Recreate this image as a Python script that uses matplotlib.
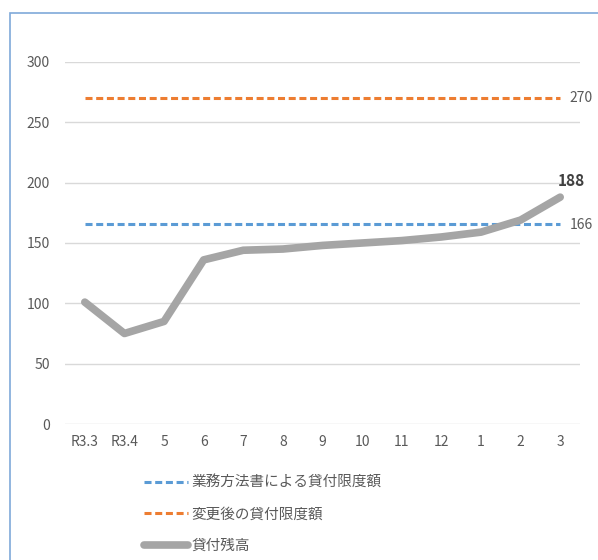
import matplotlib
matplotlib.use('Agg')
import matplotlib.pyplot as plt
from matplotlib.patches import Rectangle

plt.rcParams['font.family'] = ['Noto Sans CJK JP', 'DejaVu Sans']

# monthly loan balance and the two lending limits
months = ['R3.3', 'R3.4', '5', '6', '7', '8', '9', '10', '11', '12', '1', '2', '3']
balance = [101, 75, 85, 136, 144, 145, 148, 150, 152, 155, 159, 169, 188]
limit_rules = 166
limit_new = 270

label_rules = '業務方法書による貸付限度額'
label_new = '変更後の貸付限度額'
label_balance = '貸付残高'

text_gray = '#595959'
grid_gray = '#d9d9d9'

fig = plt.figure(figsize=(5.98, 5.6), dpi=100)
ax = fig.add_axes([65 / 598, 1 - 424 / 560, 515 / 598, 362 / 560])

x = list(range(len(months)))
ax.plot(x, [limit_rules] * len(x), color='#5b9bd5', lw=2.2, dashes=(2.3, 1.2),
        label=label_rules)
ax.plot(x, [limit_new] * len(x), color='#ed7d31', lw=2.2, dashes=(2.3, 1.2),
        label=label_new)
ax.plot(x, balance, color='#a5a5a5', lw=5.5, solid_capstyle='round',
        solid_joinstyle='round', label=label_balance)

ax.annotate(str(limit_new), (x[-1], limit_new), xytext=(7, 0),
            textcoords='offset points', ha='left', va='center',
            color=text_gray, fontsize=10)
ax.annotate(str(limit_rules), (x[-1], limit_rules), xytext=(7, -1),
            textcoords='offset points', ha='left', va='center',
            color=text_gray, fontsize=10)
ax.annotate(str(balance[-1]), (x[-1], balance[-1]), xytext=(8, 6),
            textcoords='offset points', ha='center', va='bottom',
            color='#404040', fontsize=11, fontweight='bold')

ax.set_xlim(-0.5, len(months) - 0.5)
ax.set_ylim(0, 300)
ax.set_yticks(range(0, 301, 50))
ax.set_xticks(x)
ax.set_xticklabels(months)
ax.tick_params(length=0, colors=text_gray, labelsize=10)
ax.tick_params(axis='y', pad=11)
ax.tick_params(axis='x', pad=8)
ax.grid(axis='y', color=grid_gray, lw=1)
ax.set_axisbelow(True)
for s in ax.spines.values():
    s.set_visible(False)

leg = fig.legend(loc='upper left', bbox_to_anchor=(138 / 598, 1 - 470 / 560),
                 frameon=False, fontsize=10.5, handlelength=3.0, handletextpad=0.25,
                 labelspacing=1.2, borderaxespad=0)
for t in leg.get_texts():
    t.set_color(text_gray)

# chart frame running off the right and bottom
fig.patches.append(Rectangle((10 / 598, -0.1), 1.2, 1 - 13 / 560 + 0.1,
                             transform=fig.transFigure, fill=False,
                             edgecolor='#7fa9d9', lw=1.2))

fig.savefig('out.png', dpi=100)
